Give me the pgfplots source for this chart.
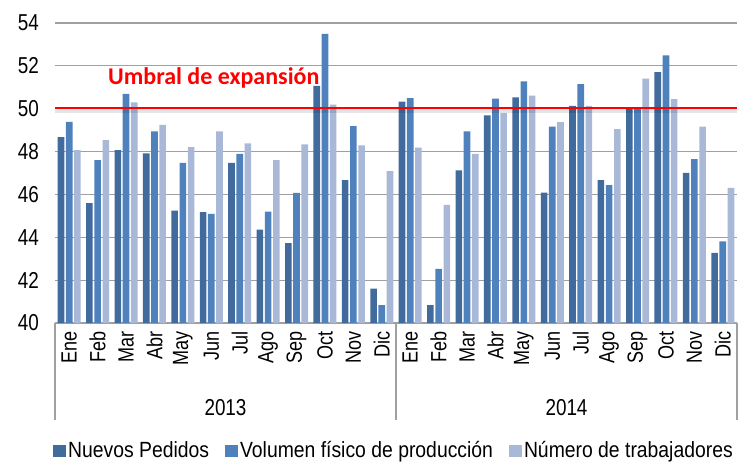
\documentclass[border=0pt]{standalone}
\usepackage{fontspec}
\setmainfont[FakeStretch=0.82]{Liberation Sans}
\newfontfamily\legfont[FakeStretch=0.88]{Liberation Sans}
\newfontfamily\calib{Carlito}
\usepackage{pgfplots}
\pgfplotsset{compat=1.18}
\definecolor{np}{RGB}{65,106,157}
\definecolor{vf}{RGB}{79,129,189}
\definecolor{nt}{RGB}{168,184,214}
\definecolor{gridc}{RGB}{160,160,160}
\pgfplotsset{sqleg/.style={legend image code/.code={\fill[##1] (0pt,-6pt) rectangle (13pt,6pt);}}}
\begin{document}
\begin{tikzpicture}
\useasboundingbox (-55pt,-141pt) rectangle (689pt,323pt);
\begin{axis}[
  scale only axis, width=682pt, height=300pt,
  xmin=-0.5, xmax=23.5, ymin=40, ymax=54,
  ytick={40,42,...,54},
  xtick={0,...,23},
  xticklabels={Ene,Feb,Mar,Abr,May,Jun,Jul,Ago,Sep,Oct,Nov,Dic,Ene,Feb,Mar,Abr,May,Jun,Jul,Ago,Sep,Oct,Nov,Dic},
  x tick label style={rotate=90, anchor=east, font=\fontsize{22}{22}\selectfont, inner sep=0pt},
  y tick label style={font=\fontsize{23}{23}\selectfont, inner sep=0pt},
  tick label style={/pgf/number format/assume math mode=true},
  x tick label style={xshift=-8pt},
  y tick label style={xshift=-16pt},
  ymajorgrids, grid style={gridc, line width=1.2pt},
  axis x line*=bottom, axis y line*=left,
  y axis line style={draw=none},
  x axis line style={gridc, line width=1.2pt, -},
  major tick length=0pt,
  legend style={at={(0.497,-0.425)}, anchor=center, draw=none, legend columns=3,
    font=\legfont\fontsize{22}{22}\selectfont,
    /tikz/every even column/.append style={column sep=14pt},
    nodes={inner sep=2pt}},
  legend cell align=left,
]
\addplot[ybar, bar width=6.6pt, bar shift=-8.2pt, fill=np, draw=none, sqleg] coordinates {
(0,48.67) (1,45.6) (2,48.07) (3,47.92) (4,45.24) (5,45.18) (6,47.47) (7,44.36) (8,43.73) (9,51.07) (10,46.67) (11,41.6)
(12,50.33) (13,40.83) (14,47.12) (15,49.69) (16,50.53) (17,46.08) (18,50.13) (19,46.67) (20,50.02) (21,51.71) (22,47.01) (23,43.27)};
\addlegendentry{Nuevos Pedidos}
\addplot[ybar, bar width=6.6pt, bar shift=0pt, fill=vf, draw=none, sqleg] coordinates {
(0,49.39) (1,47.6) (2,50.69) (3,48.94) (4,47.47) (5,45.09) (6,47.89) (7,45.2) (8,46.07) (9,53.49) (10,49.19) (11,40.83)
(12,50.5) (13,42.53) (14,48.94) (15,50.47) (16,51.28) (17,49.16) (18,51.15) (19,46.44) (20,50.02) (21,52.49) (22,47.65) (23,43.81)};
\addlegendentry{Volumen físico de producción}
\addplot[ybar, bar width=6.6pt, bar shift=8.2pt, fill=nt, draw=none, sqleg] coordinates {
(0,48.07) (1,48.53) (2,50.3) (3,49.25) (4,48.21) (5,48.94) (6,48.38) (7,47.6) (8,48.34) (9,50.19) (10,48.29) (11,47.09)
(12,48.18) (13,45.51) (14,47.89) (15,49.79) (16,50.61) (17,49.37) (18,50.13) (19,49.05) (20,51.4) (21,50.45) (22,49.16) (23,46.31)};
\addlegendentry{Número de trabajadores}
\addplot[sharp plot, black, opacity=0.10, line width=5pt, yshift=-3pt, forget plot] coordinates {(-0.5,50.05) (23.5,50.05)};
\addplot[sharp plot, red, line width=1.8pt, forget plot] coordinates {(-0.5,50.05) (23.5,50.05)};
\end{axis}
\draw[gridc, line width=1.2pt] (0pt,0pt) -- (0pt,-97pt);
\draw[gridc, line width=1.2pt] (341pt,0pt) -- (341pt,-97pt);
\draw[gridc, line width=1.2pt] (682pt,0pt) -- (682pt,-97pt);
\node[font=\fontsize{23}{23}\selectfont] at (170.5pt,-85pt) {2013};
\node[font=\fontsize{23}{23}\selectfont] at (511.5pt,-85pt) {2014};
\node[anchor=west, text=red, font=\calib\bfseries\fontsize{24}{24}\selectfont, inner sep=0pt] at (53pt,245pt) {Umbral de expansión};
\end{tikzpicture}
\end{document}
